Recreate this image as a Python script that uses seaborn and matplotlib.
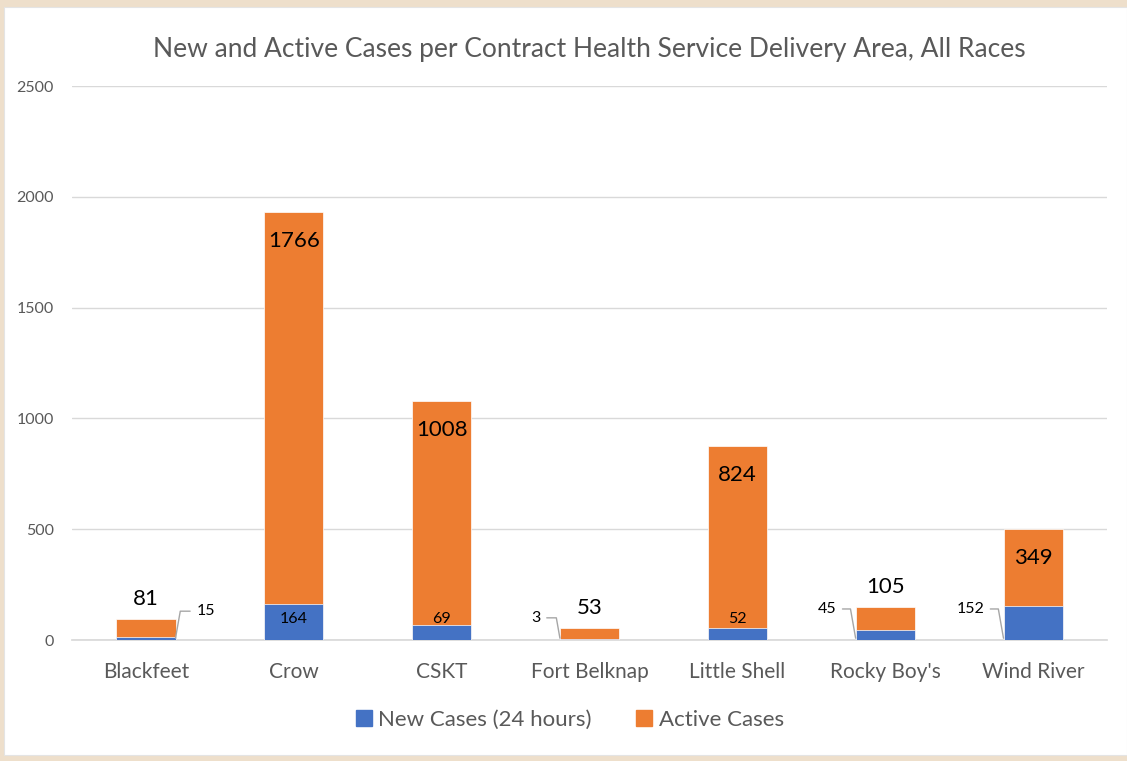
import matplotlib
matplotlib.use("Agg")
import matplotlib.pyplot as plt
import seaborn as sns
import pandas as pd
from matplotlib.patches import Rectangle

# Dati
areas = ["Blackfeet", "Crow", "CSKT", "Fort Belknap", "Little Shell", "Rocky Boy's", "Wind River"]
new_cases = [15, 164, 69, 3, 52, 45, 152]
active_cases = [81, 1766, 1008, 53, 824, 105, 349]
y_ticks = [0, 500, 1000, 1500, 2000, 2500]

BLUE = "#4472C4"
ORANGE = "#ED7D31"
TEXT = "#595959"

sns.set_theme(style="white")
plt.rcParams["font.family"] = ["Lato", "DejaVu Sans"]

df = pd.DataFrame({"area": areas, "new": new_cases, "active": active_cases})
df["total"] = df["new"] + df["active"]

fig = plt.figure(figsize=(11.27, 7.61), dpi=100, facecolor="#EEDFCB")
W, H = 1127, 761
fig.patches.append(Rectangle((4 / W, 6 / H), 1 - 4 / W, 1 - 13 / H, transform=fig.transFigure,
                             facecolor="white", edgecolor="#E4E4E4", linewidth=0.8, zorder=-10))

ax = fig.add_axes([72 / W, 1 - 640 / H, 1035 / W, 554 / H])
ax.set_facecolor("white")

# Barre impilate: totale (arancione) e nuovi casi (blu) sopra
sns.barplot(data=df, x="area", y="total", color=ORANGE, width=0.4, saturation=1,
            edgecolor="white", linewidth=0.5, ax=ax, zorder=3)
sns.barplot(data=df, x="area", y="new", color=BLUE, width=0.4, saturation=1,
            edgecolor="white", linewidth=0.5, ax=ax, zorder=4)

ax.set_ylim(0, 2500)
ax.set_xlim(-0.5, len(areas) - 0.5)
ax.set_yticks(y_ticks)
ax.yaxis.grid(True, color="#D9D9D9", linewidth=1)
ax.set_axisbelow(True)
for s in ["top", "right", "left"]:
    ax.spines[s].set_visible(False)
ax.spines["bottom"].set_color("#D9D9D9")
ax.tick_params(axis="y", labelsize=11.5, colors=TEXT, pad=13, length=0)
ax.tick_params(axis="x", labelsize=15, colors=TEXT, pad=16, length=0)
ax.set_xlabel("")
ax.set_ylabel("")

ax.set_title("New and Active Cases per Contract Health Service Delivery Area, All Races",
             fontsize=19, color=TEXT, pad=21)

# Etichette casi attivi
for i, row in df.iterrows():
    if row["active"] >= 300:
        ax.text(i, row["total"] - 130, str(row["active"]), ha="center", va="center",
                fontsize=16, color="black", zorder=6)
    else:
        ax.text(i, row["total"] + 90, str(row["active"]), ha="center", va="center",
                fontsize=16, color="black", zorder=6)

# Etichette nuovi casi
leader = dict(arrowstyle="-", color="#A6A6A6", linewidth=1, shrinkA=2, shrinkB=0)
for i, row in df.iterrows():
    n = row["new"]
    if row["area"] in ("Crow", "CSKT", "Little Shell"):
        ax.text(i, 95, str(n), ha="center", va="center", fontsize=11.5, color="black", zorder=6)
    elif row["area"] == "Blackfeet":
        ax.annotate(str(n), xy=(i + 0.2, 8), xytext=(i + 0.34, 130), ha="left", va="center",
                    fontsize=11.5, color="black", zorder=6,
                    arrowprops=dict(leader, connectionstyle="angle,angleA=0,angleB=80,rad=0",
                                    relpos=(0, 0.5)))
    else:
        ax.annotate(str(n), xy=(i - 0.2, 8), xytext=(i - 0.33, 100 if n < 10 else 140),
                    ha="right", va="center", fontsize=11.5, color="black", zorder=6,
                    arrowprops=dict(leader, connectionstyle="angle,angleA=0,angleB=100,rad=0",
                                    relpos=(1, 0.5)))

# Legenda
handles = [Rectangle((0, 0), 1, 1, color=BLUE), Rectangle((0, 0), 1, 1, color=ORANGE)]
fig.legend(handles, ["New Cases (24 hours)", "Active Cases"], loc="center",
           bbox_to_anchor=(570 / W, 1 - 720 / H), ncol=2, frameon=False, fontsize=16,
           labelcolor=TEXT, handlelength=0.7, handleheight=0.7, handletextpad=0.3,
           columnspacing=2.0)

fig.savefig("out.png", dpi=100, facecolor=fig.get_facecolor())
